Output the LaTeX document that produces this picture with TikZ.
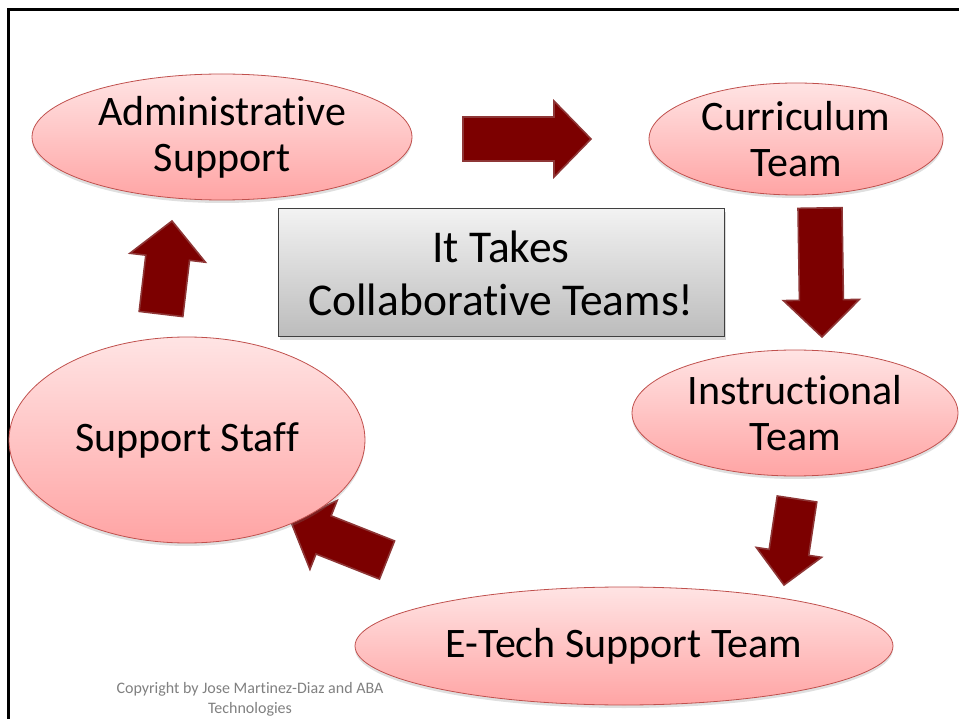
\documentclass[tikz,border=0pt]{standalone}
\usepackage{fontspec}
\setmainfont{Carlito}[Ligatures=NoCommon]
\usetikzlibrary{shapes.geometric,shadows,calc}

\definecolor{arrowred}{RGB}{124,0,0}
\definecolor{arrowedge}{RGB}{142,54,54}
\definecolor{ovaltop}{RGB}{255,228,228}
\definecolor{ovalbot}{RGB}{255,164,164}
\definecolor{ovaledge}{RGB}{192,80,77}
\definecolor{boxtop}{RGB}{242,242,242}
\definecolor{boxbot}{RGB}{188,188,188}

% block arrow: start, end, half shaft, half head, head length
\newcommand{\blockarr}[5]{%
  \coordinate (hb) at ($(#2)!#5!(#1)$);
  \draw[blockarrow] ($(#1)!#3!90:(#2)$) -- ($(hb)!#3!90:(#2)$)
    -- ($(hb)!#4!90:(#2)$) -- (#2) -- ($(hb)!#4!-90:(#2)$)
    -- ($(hb)!#3!-90:(#2)$) -- ($(#1)!#3!-90:(#2)$) -- cycle;}

\begin{document}
\begin{tikzpicture}[x=1pt,y=-1pt,
    oval/.style={ellipse, draw=ovaledge, line width=0.8pt, top color=ovaltop,
      bottom color=ovalbot, inner sep=-8pt, align=center,
      font=\fontsize{42}{46}\selectfont,
      drop shadow={shadow xshift=0pt, shadow yshift=-3pt, opacity=0.25}},
    blockarrow/.style={fill=arrowred, draw=arrowedge, line width=1.6pt,
      line join=miter}]
  \useasboundingbox (0,0) rectangle (959,719);
  \draw[line width=2.5pt] (8.7,719) -- (8.7,9.5) -- (959,9.5);

    % arrows first, so the ovals sit on top
    \coordinate (a1s) at (463,139); \coordinate (a1e) at (591,139);
    \coordinate (a2s) at (820,208); \coordinate (a2e) at (822,337);
    \coordinate (a3s) at (797,499); \coordinate (a3e) at (784,585);
    \coordinate (a4s) at (387,560); \coordinate (a4e) at (291,522);
    \coordinate (a5s) at (161,314); \coordinate (a5e) at (172,221);
    \blockarr{a1s}{a1e}{22pt}{38pt}{37pt}
    \blockarr{a2s}{a2e}{22pt}{38pt}{37pt}
    \blockarr{a3s}{a3e}{20pt}{33pt}{33pt}
    \blockarr{a4s}{a4e}{20.5pt}{37pt}{35pt}
    \blockarr{a5s}{a5e}{22pt}{38pt}{37pt}

    \node[oval, minimum width=380pt, minimum height=126pt] (admin)
      at (222,137) {Administrative\\Support};
    \node[oval, minimum width=294pt, minimum height=112pt] (curric)
      at (796,139) {Curriculum\\Team};
    \node[oval, minimum width=326pt, minimum height=126pt] (instr)
      at (795,413) {Instructional\\Team};
    \node[oval, minimum width=356pt, minimum height=206pt] (staff)
      at (187,440) {Support Staff};
    \node[oval, minimum width=538pt, minimum height=118pt,
      inner sep=-20pt] (etech)
      at (624,646) {E-Tech Support Team};

    \node[draw=black!75, line width=1pt, top color=boxtop,
      bottom color=boxbot, minimum width=446pt, minimum height=128pt,
      align=center, font=\fontsize{45.5}{53}\selectfont,
      drop shadow={shadow xshift=2pt, shadow yshift=-3pt, opacity=0.3}]
      (title) at (501,273) {It Takes\\Collaborative Teams!};

    \node[text=black!50, align=center, font=\fontsize{16}{20}\selectfont]
      (copy) at (250,699) {Copyright by Jose Martinez-Diaz and ABA\\Technologies};

\end{tikzpicture}
\end{document}
